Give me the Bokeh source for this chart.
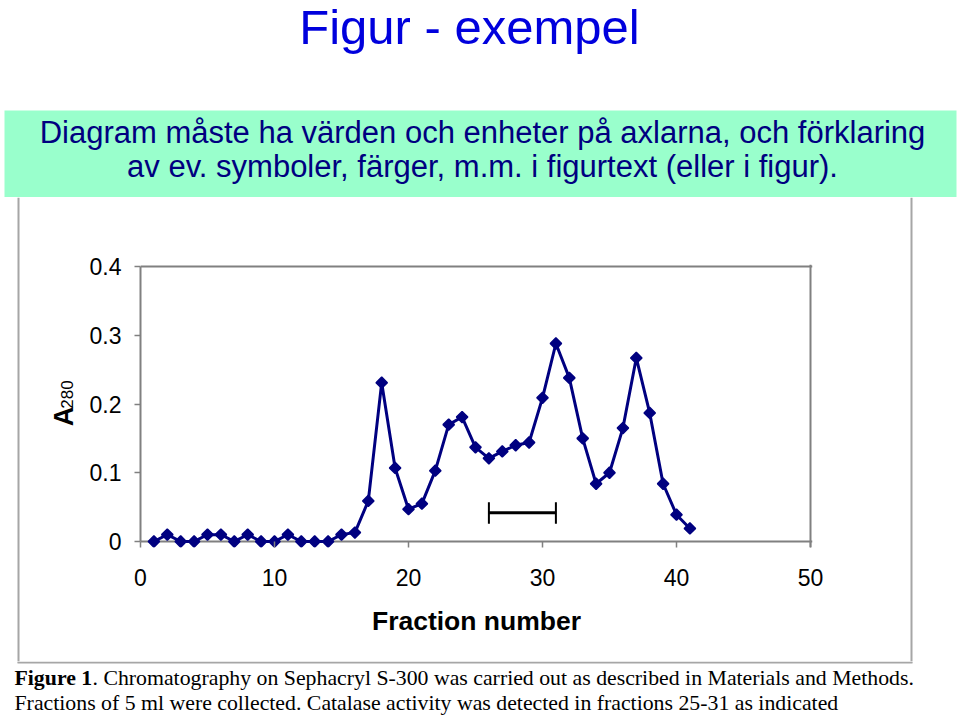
import numpy as np
from bokeh.plotting import figure
from bokeh.layouts import column, row
from bokeh.models import Range1d, FixedTicker, Span
from bokeh.core.properties import value
from bokeh.embed import file_html
from bokeh.resources import INLINE

# ---------------- data ----------------
fraction = list(range(1, 42))
a280 = [0, 0.01, 0, 0, 0.01, 0.01, 0, 0.01, 0, 0, 0.01, 0, 0, 0, 0.01, 0.013,
        0.059, 0.231, 0.107, 0.047, 0.055, 0.103, 0.170, 0.181,
        0.137, 0.121, 0.131, 0.140, 0.144, 0.209, 0.288, 0.238, 0.150, 0.084,
        0.100, 0.165, 0.267, 0.187, 0.084, 0.039, 0.019]
catalase_fractions = [26, 31]
catalase_level = [0.042]
catalase_caps = [0.026, 0.057]

x_ticks = [0, 10, 20, 30, 40, 50]
x_tick_labels = ["0", "10", "20", "30", "40", "50"]
y_ticks = [0, 0.1, 0.2, 0.3, 0.4]
y_tick_labels = ["0", "0.1", "0.2", "0.3", "0.4"]

title_text = "Figur - exempel"
note_lines = ["Diagram måste ha värden och enheter på axlarna, och förklaring",
              "av ev. symboler, färger, m.m. i figurtext (eller i figur)."]
x_label = "Fraction number"
y_label_main = "A"
y_label_sub = "280"
caption_bold = "Figure 1"
caption_line1 = ".  Chromatography on Sephacryl S-300  was carried out as described in Materials and Methods."
caption_line2 = "Fractions of 5 ml were collected. Catalase activity  was detected in fractions 25-31 as indicated"

# ---------------- styling / layout (page pixels) ----------------
NAVY = "#000080"
GRAY = "#808080"
FRAME_GRAY = "#a6a6a6"
SANS = "Liberation Sans"
SERIF = "Liberation Serif"

PW, PH = 960, 715
HEAD_B = 197          # bottom of header strip
MID_B = 661           # bottom of chart strip
LEFT_R = 80           # right edge of left strip
RIGHT_L = 850         # left edge of right strip
FL, FR0, FT0, Y0 = 140, 810, 266, 541   # page px of x=0, x=50, y=0.4, y=0
XMAX, YMAX = 50, 0.4
px_x = (FR0 - FL) / XMAX
px_y = (Y0 - FT0) / YMAX
PAD_R, PAD_T, PAD_B = 2, 2, 6
FR, FT, FB = FR0 + PAD_R, FT0 - PAD_T, Y0 + PAD_B


def deco_fig(x0, x1, y0, y1):
    f = figure(width=x1 - x0, height=y1 - y0,
               x_range=Range1d(x0, x1), y_range=Range1d(-y1, -y0),
               output_backend="svg", toolbar_location=None,
               x_axis_location=None, y_axis_location=None, min_border=0,
               outline_line_color=None, background_fill_color="white",
               border_fill_color="white", frame_align=False)
    f.grid.visible = False
    return f


def txt(f, s, X, Y, size, color="black", font=SANS, style="normal", align="left", angle=0.0):
    # Y is the vertical middle of the text line (page px)
    f.text(x=[X], y=[-Y], text=[s], text_font=value(font), text_font_size=value(f"{size}px"),
           text_color=color, text_font_style=value(style), text_align=value(align),
           text_baseline=value("middle"), angle=angle)


def seg(f, xa, ya, xb, yb, color=FRAME_GRAY, width=2):
    f.segment(x0=[xa], y0=[-ya], x1=[xb], y1=[-yb], line_color=color, line_width=width)


# ---- header: title and green note box ----
head = deco_fig(0, PW, 0, HEAD_B)
head.quad(left=[4], right=[956], top=[-110], bottom=[-HEAD_B - 1],
          fill_color="#99ffcc", line_color=None)
txt(head, title_text, 469, 26, 49, "#0000dd", align="center")
txt(head, note_lines[0], 482, 132, 31, NAVY, align="center")
txt(head, note_lines[1], 482, 166, 31, NAVY, align="center")

# ---- left strip: frame line and y-axis title ----
left = deco_fig(0, LEFT_R, HEAD_B, MID_B)
seg(left, 18, HEAD_B, 18, MID_B + 1)
txt(left, y_label_main, 63, 416, 27, style="bold", align="center", angle=np.pi / 2)
txt(left, y_label_sub, 66, 394, 17, align="center", angle=np.pi / 2)

# ---- right strip ----
right = deco_fig(RIGHT_L, PW, HEAD_B, MID_B)
seg(right, 911, HEAD_B, 911, MID_B + 1)

# ---- chart ----
p = figure(width=RIGHT_L - LEFT_R, height=MID_B - HEAD_B,
           x_range=Range1d(0, XMAX + PAD_R / px_x),
           y_range=Range1d(-PAD_B / px_y, YMAX + PAD_T / px_y),
           output_backend="svg", toolbar_location=None,
           min_border_left=FL - LEFT_R, min_border_right=RIGHT_L - FR,
           min_border_top=FT - HEAD_B, min_border_bottom=MID_B - FB,
           background_fill_color="white", border_fill_color="white",
           outline_line_color=None, frame_align=False)
p.grid.visible = False

p.xaxis.ticker = FixedTicker(ticks=x_ticks)
p.xaxis.major_label_overrides = dict(zip(x_ticks, x_tick_labels))
p.yaxis.ticker = FixedTicker(ticks=y_ticks)
p.yaxis.major_label_overrides = dict(zip(y_ticks, y_tick_labels))
p.yaxis.bounds = (0, YMAX)
for ax in (p.xaxis, p.yaxis):
    ax.major_tick_line_color = GRAY
    ax.major_tick_line_width = 1.5
    ax.minor_tick_line_color = None
    ax.major_label_text_font = SANS
    ax.major_label_text_font_size = "23px"
    ax.major_label_text_color = "black"
p.yaxis.axis_line_color = GRAY
p.yaxis.axis_line_width = 2
p.yaxis.major_tick_out = 6
p.yaxis.major_tick_in = 0
p.yaxis.major_label_standoff = 13
p.xaxis.axis_line_color = None
p.xaxis.major_tick_out = 0
p.xaxis.major_tick_in = PAD_B
p.xaxis.major_label_standoff = 21
p.xaxis.axis_label = x_label
p.xaxis.axis_label_text_font = SANS
p.xaxis.axis_label_text_font_style = "bold"
p.xaxis.axis_label_text_font_size = "26.5px"
p.xaxis.axis_label_text_color = "black"
p.xaxis.axis_label_standoff = 17

# zero line (x axis) and plot-area border
p.add_layout(Span(location=0, dimension="width", line_color=GRAY, line_width=2, level="underlay"))
p.add_layout(Span(location=YMAX, dimension="width", line_color=GRAY, line_width=2))
p.add_layout(Span(location=XMAX, dimension="height", line_color=GRAY, line_width=2))

p.line(fraction, a280, line_color=NAVY, line_width=3)
p.scatter(fraction, a280, marker="square", angle=np.pi / 4, size=8,
          fill_color=NAVY, line_color=NAVY, line_width=1.5)
p.segment(x0=[catalase_fractions[0]], y0=catalase_level, x1=[catalase_fractions[1]],
          y1=catalase_level, line_color="black", line_width=3)
p.segment(x0=catalase_fractions, x1=catalase_fractions,
          y0=[catalase_caps[0]] * 2, y1=[catalase_caps[1]] * 2,
          line_color="black", line_width=2)

# ---- caption (with the bottom edge of the chart frame) ----
cap = deco_fig(0, PW, MID_B, PH)
seg(cap, 18, MID_B, 18, 662)
seg(cap, 911, MID_B, 911, 662)
seg(cap, 17, 662, 912, 662)
txt(cap, caption_bold, 14, 677.5, 21.8, font=SERIF, style="bold")
txt(cap, caption_line1, 92, 677.5, 21.8, font=SERIF)
txt(cap, caption_line2, 14, 702.5, 21.8, font=SERIF)

layout = column(head, row(left, p, right), cap)

open("out.html", "w").write(file_html(layout, INLINE))
